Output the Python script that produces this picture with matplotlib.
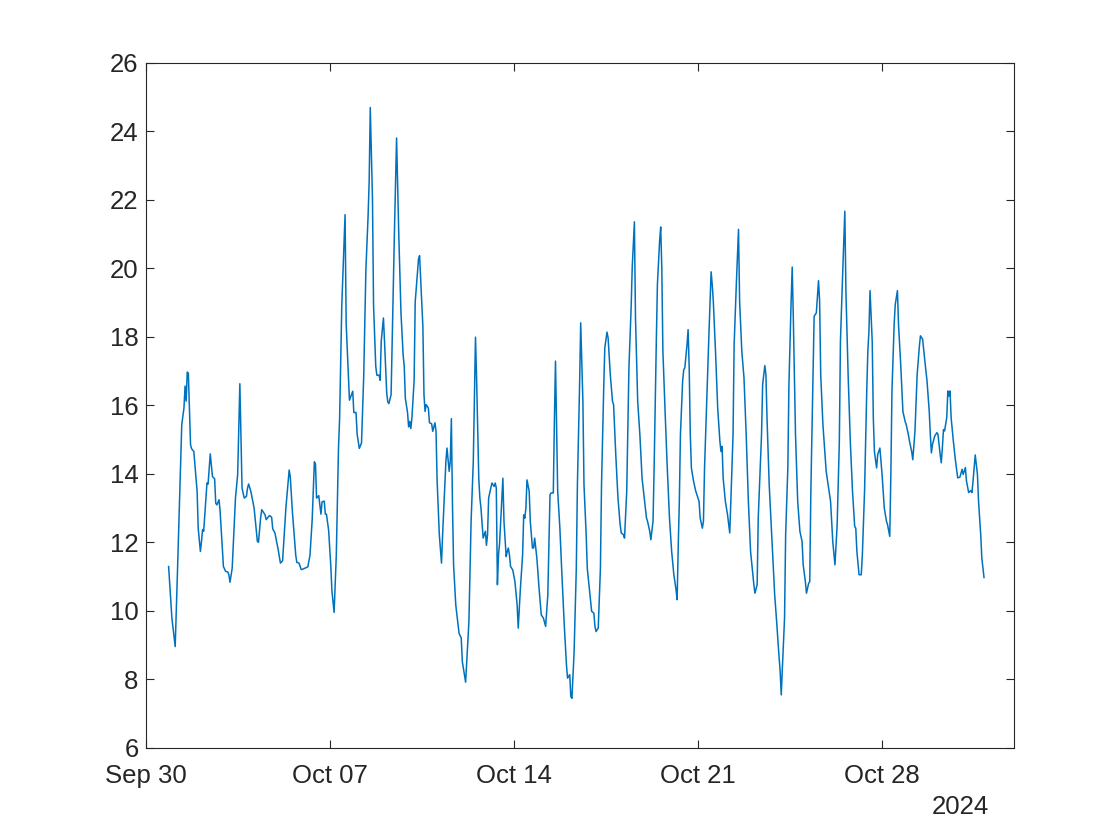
import matplotlib
matplotlib.use('Agg')
import matplotlib.pyplot as plt
import matplotlib.dates as mdates
import pandas as pd

# hours since 2024-09-30 00:00, and readings
hours = [21, 24, 27, 29, 33, 35, 36, 37, 38, 39, 41, 42, 44, 47, 48, 50, 51, 52, 53,
         56, 57, 59, 61, 63, 64, 65, 67, 68, 71, 73, 75, 76, 77, 79, 82, 84, 86, 88,
         90, 92, 93, 94, 96, 99, 102, 103, 105, 106, 109, 110, 113, 115, 116, 118,
         121, 123, 125, 127, 128, 131, 132, 134, 137, 138, 140, 142, 144, 148, 150,
         152, 154, 155, 156, 158, 160, 161, 163, 164, 165, 167, 169, 170, 172, 174,
         176, 177, 179, 182, 183, 185, 186, 189, 190, 192, 193, 195, 197, 199, 201,
         203, 204, 205, 207, 208, 210, 211, 213, 214, 215, 217, 218, 220, 221, 222,
         224, 225, 227, 229, 231, 233, 235, 236, 237, 239, 240, 241, 242, 243, 245,
         246, 249, 250, 253, 254, 255, 256, 258, 259, 261, 262, 264, 265, 266, 268,
         270, 271, 274, 275, 277, 278, 279, 280, 281, 283, 286, 288, 289, 292, 295,
         297, 299, 301, 302, 304, 305, 306, 308, 310, 311, 312, 313, 315, 316, 318,
         319, 320, 321, 322, 323, 324, 326, 327, 329, 330, 331, 332, 333, 335, 337,
         339, 340, 342, 344, 345, 346, 347, 348, 350, 351, 353, 354, 355, 357, 359,
         361, 363, 365, 367, 369, 370, 372, 373, 374, 376, 378, 380, 382, 384, 385,
         387, 388, 389, 391, 393, 394, 396, 397, 399, 400, 402, 403, 405, 407, 409,
         410, 411, 413, 415, 416, 418, 419, 421, 422, 424, 426, 427, 429, 431, 433,
         434, 436, 437, 439, 441, 443, 444, 446, 447, 449, 451, 453, 456, 457, 458,
         460, 461, 463, 464, 466, 467, 469, 470, 471, 472, 474, 476, 478, 480, 482,
         484, 485, 486, 487, 488, 490, 491, 492, 494, 495, 496, 497, 498, 500, 502,
         504, 505, 506, 508, 509, 510, 512, 514, 516, 517, 518, 520, 522, 524, 525,
         526, 527, 529, 531, 533, 534, 536, 537, 539, 541, 542, 544, 546, 548, 550,
         552, 555, 556, 558, 559, 562, 563, 565, 566, 567, 569, 572, 574, 576, 577,
         579, 580, 581, 583, 584, 586, 587, 589, 590, 591, 593, 595, 597, 599, 600,
         602, 603, 605, 606, 607, 609, 610, 612, 614, 615, 616, 618, 621, 625, 627,
         629, 631, 633, 634, 636, 638, 639, 641, 643, 645, 647, 648, 649, 651, 653,
         654, 656, 658, 659, 660, 661, 663, 664, 665, 667, 668, 670, 672, 674, 676,
         677, 679, 680, 681, 683, 684, 686, 687, 689, 691, 693, 694, 696, 697, 699,
         700, 702, 704, 706, 707, 709, 711, 713, 715, 716, 717, 718, 720, 722, 723,
         725, 726, 727, 728, 729, 731, 732, 733, 734, 735, 737, 739, 741, 743, 745,
         746, 748, 749, 751, 753, 754, 755, 757, 759, 760, 762, 763, 765]

values = [11.29, 9.78, 8.95, 11.06, 15.44, 15.92, 16.56, 16.12, 16.97, 16.94, 14.85,
          14.73, 14.65, 13.49, 12.41, 11.73, 12.02, 12.37, 12.32, 13.73, 13.70, 14.58,
          13.92, 13.85, 13.14, 13.09, 13.24, 12.90, 11.29, 11.15, 11.13, 11.05, 10.83,
          11.24, 13.29, 13.97, 16.63, 13.58, 13.29, 13.34, 13.58, 13.70, 13.49, 13.00,
          12.02, 12.00, 12.73, 12.95, 12.80, 12.66, 12.78, 12.73, 12.39, 12.27, 11.78,
          11.39, 11.46, 12.51, 13.00, 14.11, 13.91, 12.87, 11.62, 11.41, 11.39, 11.20,
          11.22, 11.28, 11.62, 12.66, 14.35, 14.28, 13.29, 13.36, 12.82, 13.18, 13.20,
          12.82, 12.82, 12.35, 11.30, 10.58, 9.95, 11.62, 14.75, 15.58, 18.91, 21.57,
          18.39, 16.93, 16.15, 16.41, 15.79, 15.79, 15.16, 14.74, 14.90, 16.83, 19.96,
          21.52, 22.56, 24.70, 22.04, 18.91, 17.14, 16.88, 16.88, 16.73, 17.87, 18.55,
          17.87, 16.36, 16.10, 16.05, 16.31, 17.87, 21.00, 23.81, 21.00, 18.71, 17.46,
          17.14, 16.20, 15.79, 15.37, 15.53, 15.32, 15.63, 16.72, 19.02, 20.27, 20.37,
          18.30, 16.31, 15.82, 16.02, 15.92, 15.49, 15.46, 15.24, 15.49, 15.24, 13.78,
          12.22, 11.39, 12.22, 14.36, 14.75, 14.07, 14.36, 15.61, 13.10, 11.35, 10.17,
          9.34, 9.20, 8.51, 7.91, 9.68, 12.61, 14.36, 17.99, 16.80, 13.87, 13.29, 13.00,
          12.12, 12.32, 11.91, 12.22, 13.29, 13.58, 13.73, 13.63, 13.73, 13.58, 10.76,
          11.63, 11.97, 12.61, 13.87, 12.61, 11.58, 11.73, 11.83, 11.63, 11.29, 11.19,
          10.85, 10.17, 9.49, 10.66, 11.63, 12.80, 12.70, 13.00, 13.82, 13.49, 12.61,
          11.83, 11.83, 12.12, 11.54, 10.66, 9.88, 9.78, 9.54, 10.46, 13.39, 13.44,
          13.44, 15.53, 17.29, 13.49, 12.41, 10.95, 9.59, 8.42, 8.03, 8.13, 7.49, 7.44,
          8.81, 11.24, 13.68, 16.60, 18.41, 16.12, 13.68, 12.22, 11.24, 10.61, 9.98,
          9.93, 9.54, 9.39, 9.49, 11.24, 13.68, 16.51, 17.68, 18.14, 17.97, 16.90,
          16.12, 16.02, 14.56, 13.29, 12.51, 12.27, 12.22, 12.12, 13.49, 17.09, 18.84,
          20.01, 21.36, 18.55, 16.12, 15.14, 13.87, 13.00, 12.71, 12.61, 12.32, 12.07,
          12.61, 14.17, 17.87, 19.53, 20.80, 21.21, 20.01, 17.58, 15.82, 14.17, 12.71,
          11.73, 11.05, 10.61, 10.32, 11.90, 13.19, 15.14, 16.70, 17.04, 17.09, 17.77,
          18.21, 17.09, 15.14, 14.17, 13.78, 13.49, 13.29, 13.19, 12.71, 12.41, 12.61,
          14.17, 16.12, 18.07, 19.90, 19.53, 19.04, 17.58, 15.92, 14.95, 14.65, 14.80,
          13.87, 13.19, 12.80, 12.27, 13.19, 15.14, 17.77, 19.53, 21.14, 19.04, 17.58,
          16.80, 15.14, 13.19, 11.73, 10.76, 10.51, 10.76, 12.71, 15.14, 16.60, 17.16,
          16.90, 15.63, 13.68, 11.73, 10.46, 9.59, 9.10, 8.22, 7.54, 8.32, 9.78, 12.22,
          14.17, 16.60, 19.04, 20.04, 18.55, 15.14, 13.19, 12.32, 12.02, 11.34, 10.85,
          10.51, 10.80, 10.85, 13.49, 16.90, 18.60, 18.70, 19.64, 19.04, 16.90, 15.44,
          14.07, 13.19, 12.02, 11.34, 12.51, 14.95, 17.87, 19.82, 21.67, 19.33, 16.90,
          14.95, 13.49, 12.46, 12.41, 11.73, 11.05, 11.05, 11.63, 13.49, 16.41, 17.58,
          18.16, 19.35, 17.87, 15.63, 14.65, 14.17, 14.56, 14.75, 13.97, 13.00, 12.61,
          12.51, 12.17, 13.97, 16.41, 18.36, 18.94, 19.35, 18.36, 17.19, 15.82, 15.53,
          15.44, 15.14, 14.95, 14.65, 14.41, 15.24, 16.90, 17.72, 18.03, 17.93, 17.30,
          16.71, 15.83, 15.15, 14.61, 14.86, 15.10, 15.20, 15.15, 14.56, 14.32, 14.76,
          15.29, 15.25, 15.64, 16.42, 16.27, 16.42, 15.64, 14.96, 14.37, 13.88, 13.90,
          14.13, 13.98, 14.18, 13.79, 13.45, 13.51, 13.45, 13.79, 14.55, 13.98, 13.20,
          12.22, 11.54, 10.97]

tick_dates = ['2024-09-30', '2024-10-07', '2024-10-14', '2024-10-21', '2024-10-28']
x_start, x_end = '2024-09-30', '2024-11-02'

plt.rcParams['font.family'] = ['Liberation Sans', 'DejaVu Sans']
axis_color = '#262626'

times = pd.Timestamp('2024-09-30') + pd.to_timedelta(hours, unit='h')

fig = plt.figure(figsize=(11.2, 8.4), dpi=100)
ax = fig.add_axes([0.13, 0.11, 0.775, 0.815])
ax.plot(times, values, color='#0072BD', linewidth=1.1)

ax.set_xlim(pd.Timestamp(x_start), pd.Timestamp(x_end))
ax.set_ylim(6, 26)
ax.set_yticks(range(6, 27, 2))
ax.set_xticks(pd.to_datetime(tick_dates))
ax.xaxis.set_major_formatter(mdates.DateFormatter('%b %d'))

ax.tick_params(direction='in', length=6, width=0.8, colors=axis_color,
               labelsize=18.5, top=True, right=True)
ax.tick_params(axis='x', pad=12)
ax.tick_params(axis='y', pad=5)
for s in ax.spines.values():
    s.set_color(axis_color)
    s.set_linewidth(0.8)

ax.text(0.939, -0.087, '2024', transform=ax.transAxes, ha='center', va='center',
        fontsize=18.5, color=axis_color)

fig.savefig('out.png', dpi=100)
